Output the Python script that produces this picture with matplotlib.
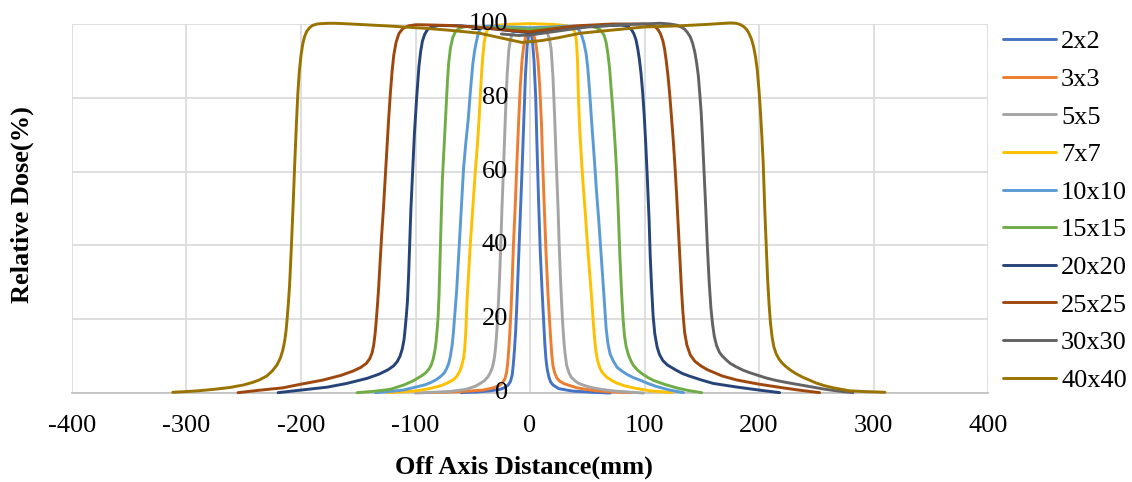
import matplotlib
matplotlib.use("Agg")
import matplotlib.pyplot as plt

plt.rcParams["font.family"] = ["Liberation Serif", "DejaVu Serif"]

# --- data (off-axis distance mm, relative dose %) ---
labels = ["2x2", "3x3", "5x5", "7x7", "10x10", "15x15", "20x20", "25x25", "30x30", "40x40"]
colors = ["#4472C4", "#ED7D31", "#A5A5A5", "#FFC000", "#5B9BD5",
          "#70AD47", "#264478", "#9E480E", "#636363", "#997300"]

x_2x2 = [-60, -45, -35, -26, -22, -19, -17, -15.5, -14.5, -13.5, -12.5, -11.5, -10.5, -9.5, -8.5,
         -7, -5.5, -4, -2.5, -1, 0, 1, 2, 3.5, 5, 6, 7.5, 9, 10.5, 12, 13, 14, 15, 16.5, 18, 20,
         25, 32, 38, 55, 70]
y_2x2 = [0.1, 0.3, 0.6, 1, 1.5, 2.2, 3.2, 5, 8, 12, 17, 24, 32, 40, 48,
         60, 73, 86, 94, 97.6, 98.3, 97.8, 96, 90, 80, 68, 52, 38, 28, 19, 13, 9, 6.5, 4.3, 3, 2.2,
         1.2, 0.8, 0.5, 0.2, 0]

x_3x3 = [-90, -75, -60, -41, -32, -27, -24, -22, -20.5, -19.5, -18.5, -17.5, -16.5, -15.5, -14.5,
         -13, -11.5, -10, -8.5, -7, -5.5, -4, -2, 0, 2, 4, 5.5, 7, 8.5, 10, 11, 12.5, 14, 15.5,
         17, 18, 19, 20, 21.5, 23.6, 26, 30, 35, 41, 55, 70, 89]
y_3x3 = [0.1, 0.2, 0.4, 0.8, 1.4, 2.0, 2.8, 3.8, 5.5, 8, 12, 17, 23, 31, 40,
         50, 62, 73, 83, 90, 94, 96.3, 97.6, 98, 97.6, 96.3, 94, 90, 83, 73, 63, 50, 38, 28,
         20, 15, 10.5, 7.5, 5.5, 4, 3.2, 2.5, 2, 1.4, 0.7, 0.3, 0.1]

x_5x5 = [-100, -85, -70, -56, -48, -44, -40, -37, -35, -33, -31.5, -30.5, -29.5, -28.5, -27.5,
         -26.5, -25.5, -24.5, -23, -21.5, -20, -18.5, -17, -15, -10, 0, 10, 15, 17, 18.5, 20,
         21.5, 23, 24.5, 25.5, 26.5, 27.5, 28.5, 29.5, 30.5, 32, 34, 36, 39, 42, 47, 52, 62, 75,
         99]
y_5x5 = [0, 0.2, 0.4, 1, 1.8, 2.5, 3.3, 4.3, 5.3, 6.8, 8.8, 11, 14.5, 19, 25,
         32, 40, 50, 62, 75, 86, 93, 96, 97.6, 98.5, 98.8, 98.5, 97.6, 96, 93, 86,
         75, 62, 50, 40, 32, 25, 19, 14.5, 11, 7.5, 5.5, 4.3, 3.4, 2.7, 2.1, 1.6, 1, 0.5,
         0]

x_7x7 = [-125, -112, -99, -88, -80, -76, -71, -67, -64, -61.5, -59.5, -58, -57, -56, -55, -53.5,
         -52, -50, -48, -46, -44.5, -43, -42, -41, -40, -38.5, -36, -30, -20, 0, 20, 30, 36, 38,
         39.5, 40.5, 41.5, 42.3, 43.5, 45, 46.5, 48, 50, 52, 54, 55.3, 56.5, 57.5, 59, 61, 63, 67,
         71, 75, 82, 90, 105, 124]
y_7x7 = [0.1, 0.3, 0.6, 1.2, 1.8, 2.2, 2.9, 3.6, 4.5, 5.8, 7.5, 9.5, 12, 17, 25, 33,
         41, 50, 59, 67, 74, 83, 88, 92, 95, 97.5, 99, 99.6, 99.9, 100.1, 99.9, 99.6, 99.2, 98.6,
         97.5, 95.5, 90, 80, 71, 63, 56, 50, 41, 33, 25, 19, 14.5, 11.5, 8.8, 6.8, 5.6, 4.3,
         3.5, 2.8, 2.0, 1.4, 0.6, 0.1]

x_10x10 = [-135, -123, -111, -100, -92, -87, -82, -78, -75, -73, -71, -69.5, -68, -67, -66,
           -65, -64, -62, -60, -58, -56, -54, -52, -50, -48.5, -47, -45.5, -44, -41, -38, -30, -20,
           0, 20, 30, 38, 41, 43, 45, 47, 49, 50.5, 52, 53.5, 55, 56.5, 58, 60, 62, 64, 65.3, 66.5,
           68, 70, 73, 76, 80, 85, 90, 96, 103, 110, 122, 134]
y_10x10 = [0.1, 0.4, 0.8, 1.6, 2.2, 2.8, 3.6, 4.5, 5.4, 6.5, 8, 10, 13, 16, 20,
           24, 28, 39, 50, 61, 68, 74, 82, 89, 92.5, 95, 97, 98.4, 99.2, 99.4, 99.4, 99.2,
           99.0, 99.2, 99.4, 99.4, 99.0, 98.2, 97, 95, 92, 88, 82, 75, 68.5, 62, 55, 47, 38, 29, 23, 17.5,
           13.5, 10.5, 8.5, 7, 6, 5, 4.2, 3.5, 2.6, 1.8, 0.8, 0.1]

x_15x15 = [-151, -135, -122, -110, -102, -95, -91, -88, -86, -84.5, -83, -82, -81, -80.2, -79.5,
           -78.5, -77.5, -76.5, -75, -73.5, -72, -71, -69.5, -67.5, -65, -62, -58, -55, -30, 0, 25,
           50, 54, 58, 61, 63, 65, 66.5, 68, 69.5, 71, 72.5, 74, 75.5, 77, 78.5, 80, 81.3, 82.5, 84,
           86, 88, 90, 94, 98, 103, 108, 118, 128, 138, 150]
y_15x15 = [0.1, 0.5, 1, 2.2, 3.3, 4.6, 5.5, 6.6, 7.8, 9.3, 11.6, 14, 17.5, 21, 26,
           37, 48, 58, 67, 76, 85, 89.5, 93.5, 96.3, 98, 98.8, 99.2, 99.3, 99, 98.6, 99,
           99.3, 99.3, 99, 98.5, 97.8, 96.7, 95, 92, 88, 82, 76, 69, 61, 50, 37, 27, 20, 15.5, 12.5,
           10.3, 8.8, 7.6, 6.2, 5.2, 4.2, 3.4, 2.3, 1.4, 0.7, 0.1]

x_20x20 = [-220, -200, -177, -160, -142, -132, -124, -119, -116, -113.5, -111.5, -110, -109, -108,
           -107, -106, -105, -104, -102.5, -101, -99, -97, -95.5, -94, -92, -89.5, -86, -80, -60,
           -30, 0, 20, 50, 79, 83, 86, 88.5, 90.5, 92.5, 94, 95.5, 97, 98.5, 99.8, 101, 102.5, 104,
           105, 106.3, 107.5, 109, 111, 113, 116, 120, 127, 133, 140, 150, 160, 181, 200, 218]
y_20x20 = [0.1, 0.8, 1.6, 2.6, 4, 5.1, 6.3, 7.4, 8.5, 10, 12, 14.5, 17.5, 21,
           25, 32, 41, 50, 60, 70, 80, 88.5, 92.5, 95.3, 97.2, 98.5, 99.2, 99.6, 99.5,
           98.6, 97.6, 98.2, 99.3, 99.7, 99.6, 99.2, 98.5, 97.5, 95.8, 93.5, 90.5, 86.5, 81, 75, 68, 58, 47,
           37, 28, 21, 16, 12.5, 10.5, 8.8, 7.6, 6.3, 5.3, 4.5, 3.5, 2.6, 1.6, 0.8, 0.1]

x_25x25 = [-255, -235, -216, -200, -181, -165, -155, -148, -143, -140, -138, -136.5, -135.3, -134.3,
           -133.3, -132.3, -131, -129.5, -128, -126.5, -125, -123.5, -122, -120.5, -119, -117,
           -114.5, -111, -106, -100, -95, -70, -40, -15, 0, 15, 40, 72, 100, 106, 109.5, 112, 114,
           116, 117.5, 119, 120.5, 122, 123.5, 125, 126.5, 128, 129.5, 131, 132.3, 133.5, 135,
           137, 140, 144, 149, 155, 168, 181, 200, 221, 237, 253]
y_25x25 = [0.1, 0.8, 1.4, 2.4, 3.5, 4.8, 5.9, 6.9, 8.0, 9.3, 10.8, 13, 16, 19.5,
           23.5, 28, 35, 43, 50, 58, 66, 74, 81, 87, 91.5, 95, 97.4, 98.8, 99.5, 99.8, 99.8,
           99.6, 99, 98.2, 97.9, 98.5, 99.5, 100, 100, 99.7, 99.2, 98.4, 97.3, 95.5, 93.3, 90,
           86, 81, 75, 69, 62, 54, 45, 36, 28, 22, 16.5, 13, 10.3, 8.6, 7.4, 6.3, 4.6, 3.5,
           2.4, 1.4, 0.7, 0.1]

x_30x30 = [-25, -10, 0, 20, 50, 80, 114, 122, 128, 132, 135, 137.5, 140, 142, 144, 145.5, 147,
           148.3, 149.5, 150.5, 152, 153.5, 155, 156.5, 158, 159.5, 161, 163, 165.5, 168, 172,
           175, 180, 186, 192, 198, 206, 215, 225, 236, 247, 258, 270, 282]
y_30x30 = [97.3, 96.9, 97.0, 97.9, 99.2, 99.8, 100.2, 100.0, 99.7, 99.2, 98.6, 97.7, 96.5, 94.8,
           92.3, 89.5, 86, 81, 76, 70, 60, 50, 39, 30, 23, 18.5, 15.3, 12.8, 11, 10, 8.8,
           8, 7.1, 6.2, 5.5, 4.9, 4.1, 3.4, 2.8, 2.2, 1.6, 1.0, 0.5, 0.1]

x_40x40 = [-312, -300, -290, -276, -262, -250, -242, -236, -230, -225, -221, -218, -216, -214.3,
           -213, -212, -211, -210, -208.5, -207, -205.5, -204, -202.8, -201.5, -200, -198.5, -197,
           -195, -192.5, -190, -186, -182, -176, -170, -150, -120, -90, -70, -44, -25, -7, 10, 25,
           44, 70, 100, 130, 155, 175, 180, 184, 187, 189.5, 191.5, 193.5, 195.3, 197, 198.5, 200,
           201.3, 202.5, 203.7, 205, 206.3, 207.5, 208.8, 210, 211.5, 213, 215, 217.5, 220, 223,
           227, 232, 238, 244, 250, 257, 265, 272, 279, 292, 310]
y_40x40 = [0.2, 0.4, 0.6, 1.0, 1.5, 2.2, 2.9, 3.6, 4.6, 6, 7.6, 9.5, 11.5, 14,
           17, 20.5, 24.5, 29, 39, 50, 62, 73, 81, 87, 91.5, 94.5, 96.5,
           98, 99, 99.6, 100, 100.1, 100.2, 100.2, 99.9, 99.4, 98.8, 98.3, 97.5, 96.2, 95.0, 95.5, 96.3,
           97.5, 98.3, 99.2, 99.5, 99.9, 100.3, 100.2, 99.8, 99.2, 98.4, 97.3, 95.8, 93.8, 91, 87.5, 82,
           76, 69.5, 62, 50, 40, 31, 24, 19, 15, 12.5, 10.6, 9.2, 8.2, 7.3,
           6.3, 5.3, 4.3, 3.5, 2.7, 2.0, 1.4, 1.0, 0.6, 0.4, 0.2]

series_x = [x_2x2, x_3x3, x_5x5, x_7x7, x_10x10, x_15x15, x_20x20, x_25x25, x_30x30, x_40x40]
series_y = [y_2x2, y_3x3, y_5x5, y_7x7, y_10x10, y_15x15, y_20x20, y_25x25, y_30x30, y_40x40]

x_ticks = [-400, -300, -200, -100, 0, 100, 200, 300, 400]
y_ticks = [0, 20, 40, 60, 80, 100]

fig = plt.figure(figsize=(11.32, 4.82), dpi=100)
ax = fig.add_axes([0.0636, 0.1846, 0.8092, 0.7656])

for xs, ys, lab, col in zip(series_x, series_y, labels, colors):
    ax.plot(xs, ys, color=col, lw=2.1, label=lab, clip_on=False, zorder=3,
            solid_joinstyle="round", solid_capstyle="round")

ax.set_xlim(-400, 400)
ax.set_ylim(0, 100)
ax.set_xticks(x_ticks)
ax.set_xticklabels([str(v) for v in x_ticks])
ax.set_yticks(y_ticks)
ax.set_yticklabels([])
ax.grid(True, color="#d9d9d9", lw=1.2)
ax.set_axisbelow(True)
for s in ["top", "right", "left"]:
    ax.spines[s].set_visible(False)
ax.spines["bottom"].set_color("#bfbfbf")
ax.spines["bottom"].set_linewidth(1.2)
ax.spines["bottom"].set_zorder(1)
ax.tick_params(axis="both", length=0)
ax.tick_params(axis="x", labelsize=19, pad=16)

# value axis labels sit just left of x=0, drawn above the curves
for v in y_ticks:
    ax.text(-19, v, str(v), ha="right", va="center", fontsize=19, zorder=5)

fig.text(0.4626, 0.031, "Off Axis Distance(mm)", ha="center", va="center",
         fontsize=19, fontweight="bold")
fig.text(0.0195, 0.575, "Relative Dose(%)", ha="center", va="center", rotation=90,
         fontsize=19, fontweight="bold")

handles, labs = ax.get_legend_handles_labels()
fig.legend(handles, labs, loc="upper left", bbox_to_anchor=(0.886, 0.938),
           frameon=False, fontsize=19, handlelength=2.0, handletextpad=0.2,
           labelspacing=0.536, borderpad=0, borderaxespad=0)

fig.savefig("out.png", dpi=100)
